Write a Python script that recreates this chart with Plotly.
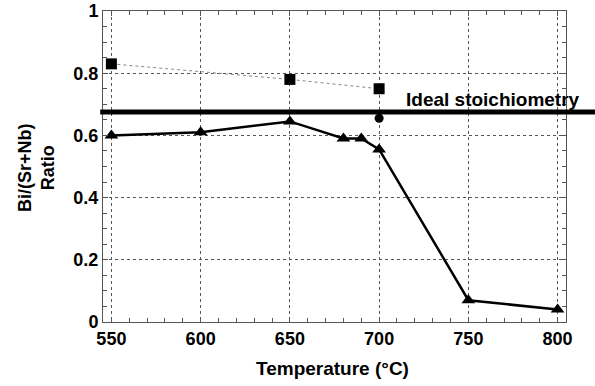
import plotly.graph_objects as go

# Bi/(Sr+Nb) ratio versus deposition temperature
temp_tri = [550, 600, 650, 680, 690, 700, 750, 800]
ratio_tri = [0.60, 0.61, 0.645, 0.59, 0.59, 0.555, 0.07, 0.04]

temp_sq = [550, 650, 700]
ratio_sq = [0.83, 0.78, 0.75]

temp_dot = [700]
ratio_dot = [0.655]

ideal_ratio = 0.675

x_ticks = [550, 600, 650, 700, 750, 800]
y_ticks = [0, 0.2, 0.4, 0.6, 0.8, 1]
y_tick_text = ["0", "0.2", "0.4", "0.6", "0.8", "1"]

FONT = "Liberation Sans, Arial, sans-serif"

fig = go.Figure()

fig.add_trace(go.Scatter(
    x=temp_sq, y=ratio_sq, mode="lines+markers",
    line=dict(color="#888888", width=1, dash="dot"),
    marker=dict(symbol="square", size=11, color="black"),
    showlegend=False))

fig.add_trace(go.Scatter(
    x=temp_tri, y=ratio_tri, mode="lines+markers",
    line=dict(color="black", width=2.5),
    marker=dict(symbol="triangle-up", size=12, color="black"),
    showlegend=False))

fig.add_trace(go.Scatter(
    x=temp_dot, y=ratio_dot, mode="markers",
    marker=dict(symbol="circle", size=9, color="black"),
    showlegend=False))

# ideal stoichiometry reference line, extending past the frame on both sides
fig.add_shape(type="line", xref="paper", yref="y",
              x0=-0.006, x1=1.07, y0=ideal_ratio, y1=ideal_ratio,
              line=dict(color="black", width=5), layer="above")
fig.add_annotation(x=1.0, xref="paper", y=ideal_ratio, yref="y",
                   text="<b>Ideal stoichiometry</b>", showarrow=False,
                   xanchor="right", yanchor="bottom", yshift=0, xshift=16,
                   font=dict(family=FONT, size=19, color="black"))

axis_common = dict(
    showline=True, linecolor="#555555", linewidth=1, mirror="ticks",
    ticks="inside", ticklen=5, tickcolor="#555555",
    showgrid=True, gridcolor="#555555", gridwidth=1, griddash="dot",
    zeroline=False, automargin=False,
    tickfont=dict(family=FONT, size=18, color="black"),
)

fig.update_xaxes(
    range=[545.3, 804.7], tickvals=x_ticks,
    ticktext=[f"<b>{v}</b>" for v in x_ticks],
    minor=dict(dtick=10, ticks="inside", ticklen=4, tickcolor="#555555", showgrid=False),
    **axis_common)

fig.update_yaxes(
    range=[0, 1], tickvals=y_ticks,
    ticktext=[f"<b>{t}</b>" for t in y_tick_text],
    minor=dict(dtick=0.05, ticks="inside", ticklen=4, tickcolor="#555555", showgrid=False),
    **axis_common)

# axis titles
fig.add_annotation(x=0.495, xref="paper", y=-0.148, yref="paper",
                   text="<b>Temperature (°C)</b>", showarrow=False,
                   xanchor="center", yanchor="middle",
                   font=dict(family=FONT, size=19, color="black"))
fig.add_annotation(x=-0.145, xref="paper", y=0.498, yref="paper",
                   text="<b>Bi/(Sr+Nb)<br>Ratio</b>", showarrow=False,
                   textangle=-90, xanchor="center", yanchor="middle",
                   font=dict(family=FONT, size=18, color="black"))

fig.update_layout(
    width=595, height=386,
    margin=dict(l=103, r=29, t=11, b=64),
    paper_bgcolor="white", plot_bgcolor="white",
)

fig.write_html("out.html")
